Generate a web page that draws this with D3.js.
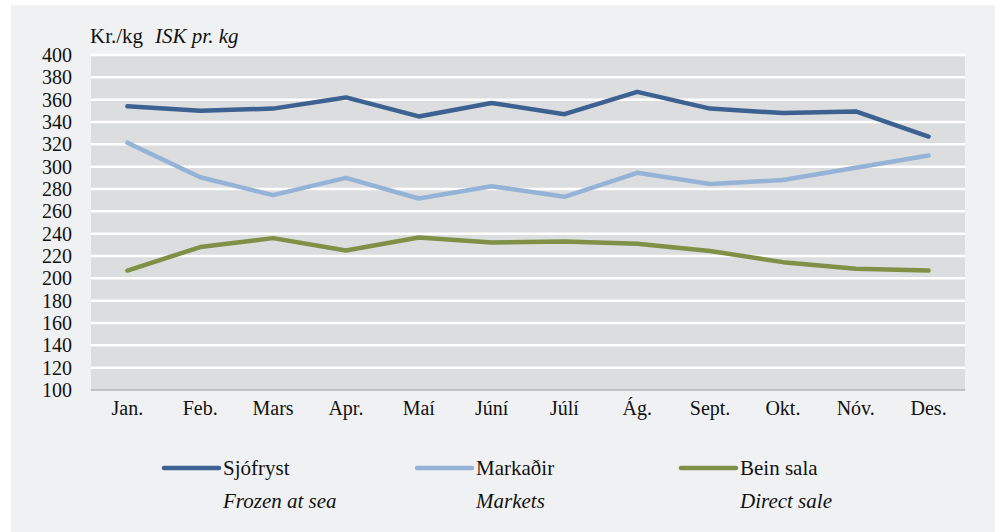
<!DOCTYPE html>
<html>
<head>
<meta charset="utf-8">
<script src="https://cdn.jsdelivr.net/npm/d3@7"></script>
<style>
  body { margin: 0; background: #ffffff; }
  svg, svg text { font-family: "Liberation Serif", "Tinos", "Times New Roman", "Nimbus Roman", "DejaVu Serif", serif; }
</style>
</head>
<body>
<svg id="chart" width="1000" height="532"></svg>
<script>
// data
const months = ["Jan.", "Feb.", "Mars", "Apr.", "Maí", "Júní", "Júlí", "Ág.", "Sept.", "Okt.", "Nóv.", "Des."];
const sjofryst = [354, 350, 352, 362, 345, 357, 347, 367, 352, 348, 349.5, 327];
const markadir = [321.5, 290.5, 274.5, 290, 271.5, 282.5, 273, 294.5, 284.5, 288, 299, 310];
const beinSala = [207, 228, 236, 225, 236.5, 232, 233, 231, 224.5, 214.5, 208.5, 207];
const yTicks = [100, 120, 140, 160, 180, 200, 220, 240, 260, 280, 300, 320, 340, 360, 380, 400];

const seriesNames = ["Sjófryst", "Markaðir", "Bein sala"];
const seriesNamesEn = ["Frozen at sea", "Markets", "Direct sale"];
const seriesValues = [sjofryst, markadir, beinSala];
const colors = ["#3d6190", "#95b3d7", "#7e9146"];

const svg = d3.select("#chart");

// panel background
svg.append("rect")
    .attr("x", 11).attr("y", 5)
    .attr("width", 984).attr("height", 527)
    .attr("fill", "#f0f1f3");

const plot = { left: 91, right: 965, top: 55, bottom: 390 };

const x = d3.scaleBand()
    .domain(months)
    .range([plot.left, plot.right]);

const y = d3.scaleLinear()
    .domain([100, 400])
    .range([plot.bottom, plot.top]);

// plot area
svg.append("rect")
    .attr("x", plot.left).attr("y", plot.top)
    .attr("width", plot.right - plot.left)
    .attr("height", plot.bottom - plot.top)
    .attr("fill", "#dcdddf");

// gridlines
svg.append("g")
    .selectAll("line")
    .data(yTicks.filter(d => d > 100))
    .enter().append("line")
    .attr("x1", plot.left).attr("x2", plot.right)
    .attr("y1", d => y(d)).attr("y2", d => y(d))
    .attr("stroke", "#ffffff")
    .attr("stroke-width", 2.5);

// baseline
svg.append("line")
    .attr("x1", plot.left).attr("x2", plot.right)
    .attr("y1", y(100)).attr("y2", y(100))
    .attr("stroke", "#b4b5b7")
    .attr("stroke-width", 1.5);

// y axis labels
const yAxis = d3.axisLeft(y).tickValues(yTicks).tickSize(0).tickPadding(19);
svg.append("g")
    .attr("transform", `translate(${plot.left},0)`)
    .call(yAxis)
    .attr("font-family", null)
    .call(g => g.select(".domain").remove())
    .call(g => g.selectAll("text")
        .attr("font-size", 20)
        .attr("fill", "#111"));

// x axis labels
const xAxis = d3.axisBottom(x).tickSize(0).tickPadding(11);
svg.append("g")
    .attr("transform", `translate(0,${plot.bottom})`)
    .call(xAxis)
    .attr("font-family", null)
    .call(g => g.select(".domain").remove())
    .call(g => g.selectAll("text")
        .attr("font-size", 20)
        .attr("fill", "#111"));

// unit label
const unit = svg.append("text")
    .attr("x", 90).attr("y", 43)
    .attr("font-size", 21)
    .attr("fill", "#111");
unit.append("tspan").text("Kr./kg");
unit.append("tspan").attr("dx", 12).attr("font-style", "italic").text("ISK pr. kg");

// lines
const line = d3.line()
    .x((d, i) => x(months[i]) + x.bandwidth() / 2)
    .y(d => y(d));

svg.append("g")
    .selectAll("path")
    .data(seriesValues)
    .enter().append("path")
    .attr("d", line)
    .attr("fill", "none")
    .attr("stroke", (d, i) => colors[i])
    .attr("stroke-width", 4.5)
    .attr("stroke-linecap", "round")
    .attr("stroke-linejoin", "round");

// legend
const legendX = [164, 417, 681];
const legend = svg.selectAll(".legend")
    .data(seriesNames)
    .enter().append("g")
    .attr("class", "legend")
    .attr("transform", (d, i) => `translate(${legendX[i]},468)`);

legend.append("line")
    .attr("x1", 0).attr("x2", 55)
    .attr("stroke", (d, i) => colors[i])
    .attr("stroke-width", 4.5)
    .attr("stroke-linecap", "round");

legend.append("text")
    .attr("x", 59).attr("y", 7)
    .attr("font-size", 21)
    .attr("fill", "#111")
    .text(d => d);

legend.append("text")
    .attr("x", 59).attr("y", 40)
    .attr("font-size", 21)
    .attr("font-style", "italic")
    .attr("fill", "#111")
    .text((d, i) => seriesNamesEn[i]);
</script>
</body>
</html>
